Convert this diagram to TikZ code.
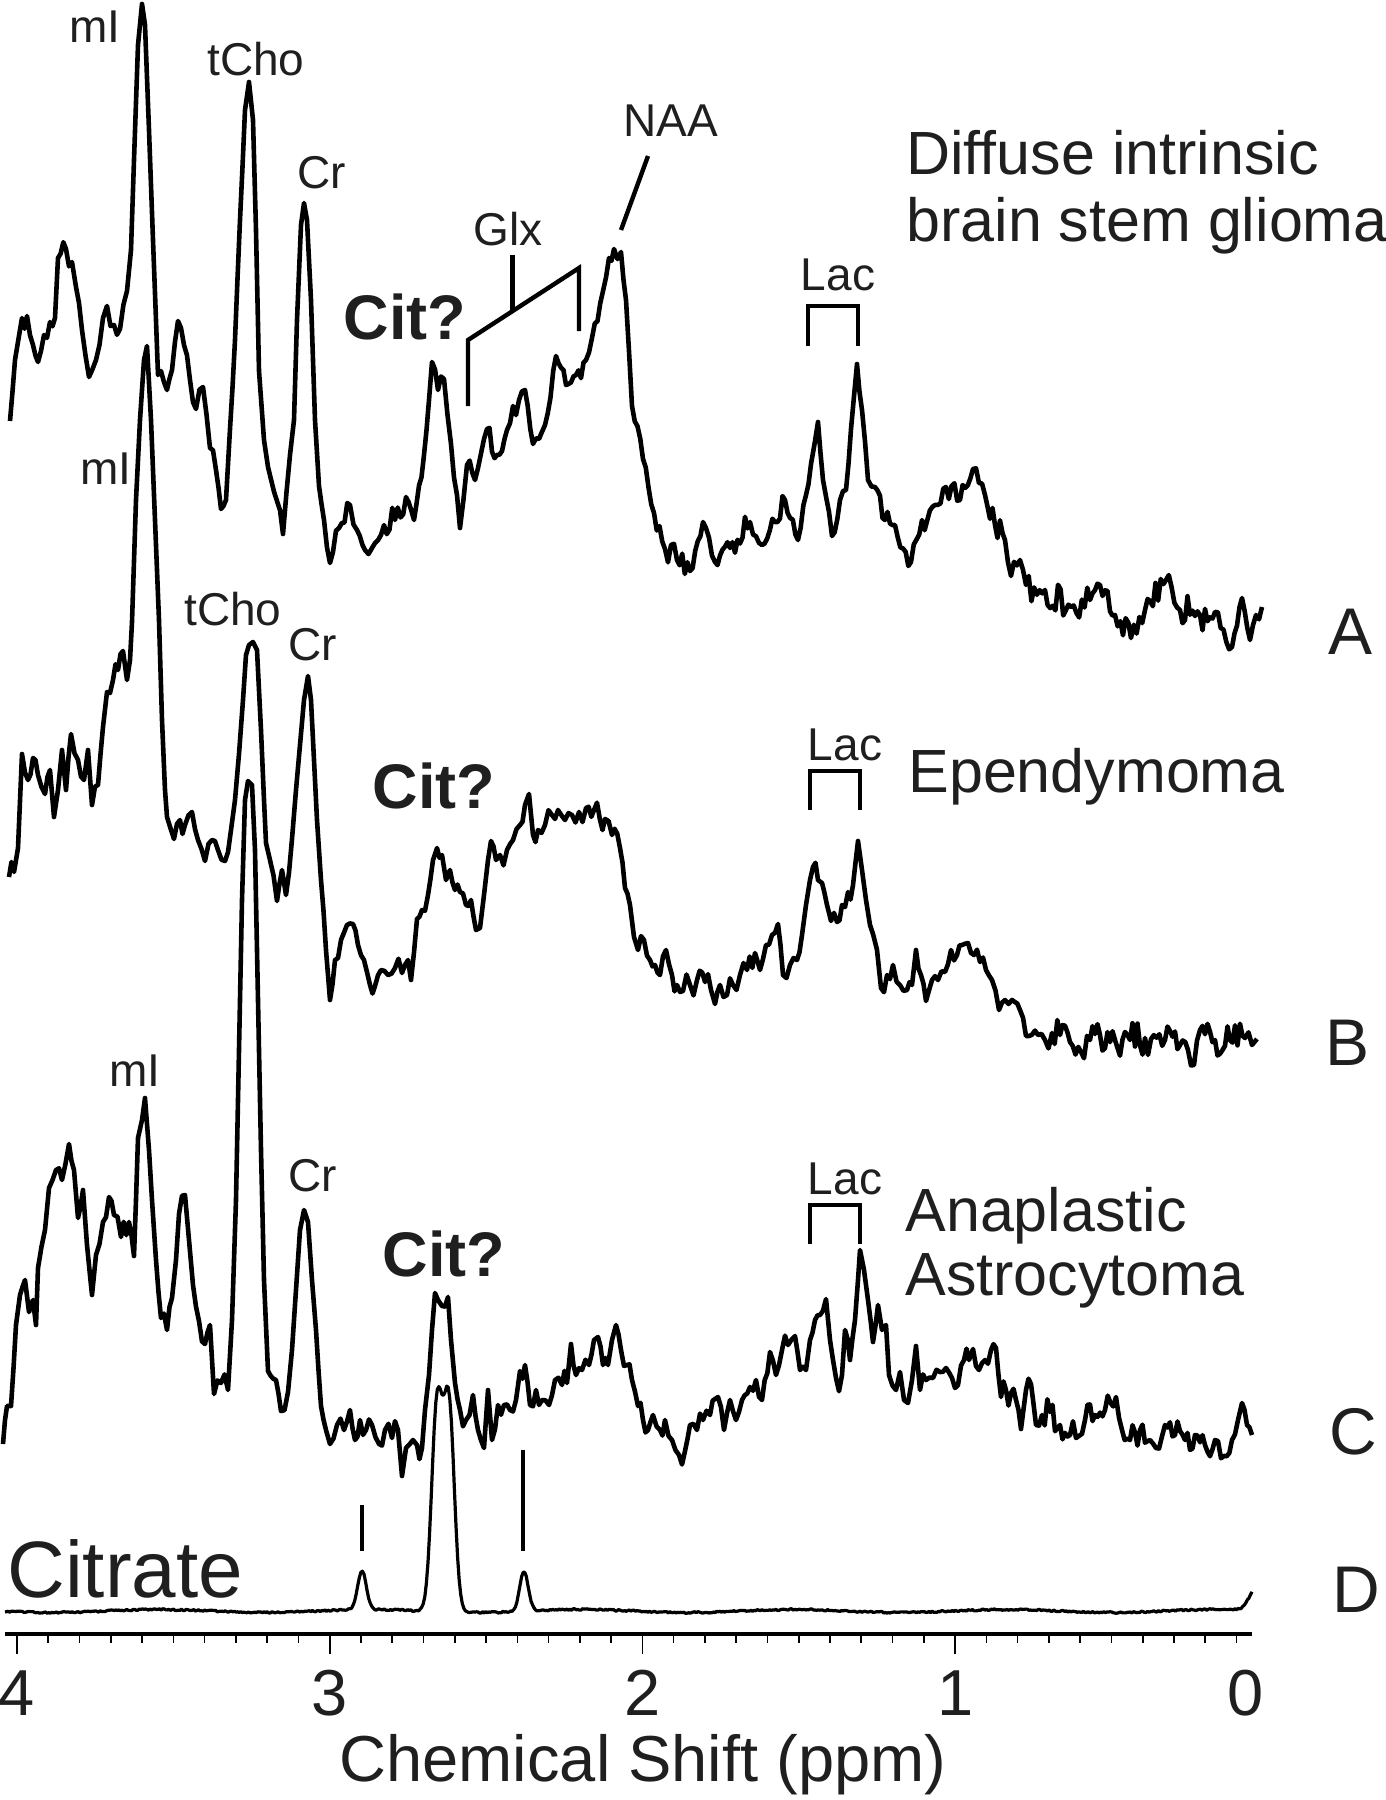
\documentclass[tikz,border=0pt]{standalone}
\usepackage{fontspec}
\setmainfont{Liberation Sans}
\newcommand\jspec[4]{%
 \draw[#1] (#2,#3) \foreach \x/\y [remember=\x as \lx (initially #2), remember=\y as \ly (initially #3), evaluate=\x as \n using {int(max(1,abs(\x-\lx)/2.5))}] in {#4} {\foreach \k in {1,...,\n} { -- ({\lx+(\x-\lx)*\k/\n},{\ly+(\y-\ly)*\k/\n+(\k<\n)*17*rand/(1+abs(\y-\ly)/(4*abs(\x-\lx)+4))}) }};
}
\begin{document}
\begin{tikzpicture}[x=0.5pt,y=-0.5pt,
 spec/.style={line width=2.3pt,line join=round,black},
 specD/.style={line width=1.6pt,line join=round,black},
 brk/.style={line width=2.2pt,black},
 citmark/.style={line width=2pt,black},
 lbl/.style={font=\fontsize{23}{27}\selectfont,inner sep=0pt,anchor=base,text=black!88},
 big/.style={font=\fontsize{30.5}{34}\selectfont,inner sep=0pt,anchor=base west,text=black!88},
 cit/.style={font=\fontsize{31.5}{36}\selectfont\bfseries,inner sep=0pt,anchor=base,text=black!88},
 letter/.style={font=\fontsize{33}{36}\selectfont,inner sep=0pt,anchor=base,text=black!88},
 num/.style={font=\fontsize{32.5}{36}\selectfont,inner sep=0pt,anchor=base,text=black!88},
 axisline/.style={line width=1.8pt,black},
 tick/.style={line width=0.8pt,black}]
\useasboundingbox (0,0) rectangle (1386,1800);
\pgfmathsetseed{7}
% ---------- Spectrum A ----------
\jspec{spec}{10}{421}{15/360, 22/318, 27/316, 33/345, 38/362, 44/335, 50/322, 55/318, 58/258, 66/249, 72/262, 76/287, 82/330, 89/377, 96/360, 103/318, 107/306, 114/325, 120/329, 127/291, 131/250, 134/160, 138/45, 142/4, 145/25, 149/130, 153/240, 158/375, 167/390, 172/370, 178/321, 184/345, 190/380, 196/409, 203/387, 210/448, 216/470, 221/509, 226/500, 230/429, 235/340, 240/220, 245/110, 249/82, 253/120, 256/230, 259/371, 264/440, 268/467, 277/501, 283/534, 290/455, 294/420, 297/320, 301/225, 304/203, 307/220, 311/300, 315/420, 319/486, 324/520, 330/563, 339/528, 350/505, 357/530, 365/550, 372/548, 384/525, 395/520, 406/497, 414/520, 424/455, 429/400, 432/362, 438/390, 444/379, 451/444, 460/528, 467/465, 475/480, 487/429, 497/455, 507/430, 513/406, 519/400, 525/390, 533/444, 545/425, 556/356, 566/385, 576/375, 586/360, 592/338, 603/291, 609/258, 614/249, 621/252, 626/300, 632/406, 643/459, 654/513, 665/549, 677/560, 690/571, 703/522, 715/562, 730/548, 750/522, 762/545, 775/522, 785/500, 798/540, 806/495, 811/464, 818/422, 823/480, 832/536, 840/500, 846/490, 851/429, 857/364, 862/410, 868/480, 875/487, 885/520, 895/525, 911/562, 922/520, 935/505, 946/487, 960/500, 973/469, 985/495, 995/525, 1005/540, 1011/576, 1020/560, 1026/585, 1045/590, 1071/607, 1090/600, 1100/585, 1115/615, 1131/638, 1145/610, 1166/580, 1180/610, 1200/615, 1215/612, 1232/647, 1242/598, 1250/640, 1256/615, 1262/607}
% ---------- Spectrum B ----------
\jspec{spec}{9}{877}{14/872, 18/848, 22/754, 28/780, 33/758, 38/775, 45/794, 50/770, 54/817, 58/790, 62/750, 66/790, 71/734, 78/760, 84/780, 88/750, 92/805, 98/785, 103/727, 107/692, 113/680, 118/670, 123/651, 127/680, 130/660, 132/622, 136/500, 140/420, 144/360, 147/346, 151/420, 155/520, 159/620, 162/720, 165/790, 167/817, 174/839, 180/820, 185/825, 192/812, 198/840, 205/861, 212/840, 218/850, 225/861, 231/830, 235/800, 239/754, 243/700, 246/655, 249/645, 253/642, 257/650, 261/730, 264/800, 266/843, 270/860, 277/901, 282/870, 286/895, 292/839, 296/790, 300/745, 304/700, 308/676, 311/700, 314/760, 317/820, 321/880, 326/950, 330/1000, 335/960, 341/940, 347/925, 353/924, 358/945, 364/960, 370/985, 375/986, 381/970, 388/975, 395/968, 402/973, 408/960, 411/980, 417/919, 422/910, 428/895, 433/860, 437/848, 442/855, 446/880, 450/870, 455/890, 460/892, 466/905, 471/900, 476/930, 480/928, 484/895, 488/860, 491/841, 496/860, 500/855, 507/850, 513/840, 520/825, 525/805, 529/794, 533/835, 538/830, 545/825, 552/815, 558/810, 565/820, 572/815, 579/812, 586/808, 594/810, 600/820, 605/819, 612/835, 620/848, 625/888, 630/905, 634/937, 638/950, 644/940, 650/960, 655/965, 660/975, 666/950, 672/975, 677/985, 683/991, 690/985, 697/980, 705/982, 711/990, 715/1004, 720/985, 727/995, 733/985, 740/975, 747/970, 755/953, 760/970, 766/945, 772/935, 778/924, 783/975, 790/965, 797/960, 802/935, 806/905, 810/880, 813/867, 818/880, 822/883, 827/905, 831/921, 837/922, 842/905, 848/892, 853/885, 858/841, 862/870, 866/900, 870/925, 873/934, 877/950, 881/988, 887/975, 893/965, 900/985, 907/990, 912/985, 916/950, 921/975, 926/1001, 932/980, 938/980, 945/972, 951/950, 957/955, 962/945, 968/943, 974/955, 980/962, 986/970, 992/980, 999/1010, 1005/1000, 1012/1000, 1020/1010, 1029/1036, 1038/1035, 1045/1040, 1052/1033, 1060/1035, 1070/1042, 1081/1052, 1090/1040, 1100/1035, 1115/1040, 1130/1040, 1145/1038, 1151/1039, 1165/1040, 1180/1045, 1188/1050, 1194/1065, 1200/1030, 1215/1040, 1230/1040, 1245/1038, 1252/1045, 1257/1039}
% ---------- Spectrum C ----------
\jspec{spec}{3}{1444}{5/1420, 7/1406, 11/1406, 16/1325, 20/1295, 25/1280, 29/1312, 33/1300, 36/1325, 38/1268, 45/1230, 49/1188, 56/1170, 62/1180, 69/1144, 74/1170, 78/1218, 83/1190, 87/1245, 92/1295, 96/1255, 103/1222, 109/1197, 114/1215, 121/1237, 129/1222, 134/1256, 136/1200, 138/1138, 142/1120, 145/1098, 149/1150, 152/1200, 156/1260, 161/1318, 167/1330, 172/1298, 176/1260, 179/1214, 185/1195, 189/1240, 193/1285, 199/1321, 205/1344, 210/1325, 214/1394, 221/1383, 228/1390, 232/1320, 236/1200, 239/1050, 242/900, 245/800, 248/781, 252/785, 255/850, 258/1000, 261/1150, 264/1280, 268/1371, 276/1380, 281/1411, 288/1392, 292/1350, 296/1290, 300/1230, 304/1210, 308/1222, 312/1280, 316/1330, 321/1406, 326/1430, 330/1444, 337/1425, 344/1430, 350/1410, 355/1440, 360/1420, 366/1430, 372/1425, 379/1444, 385/1430, 392/1438, 398/1430, 402/1476, 406/1448, 413/1440, 417/1445, 422/1448, 425/1410, 429/1375, 432/1330, 435/1293, 438/1300, 442/1306, 448/1297, 451/1340, 455/1383, 460/1410, 466/1420, 473/1395, 478/1430, 484/1448, 488/1390, 492/1440, 498/1405, 504/1405, 510/1410, 516/1400, 520/1371, 525/1365, 530/1405, 536/1390, 542/1400, 549/1405, 555/1380, 562/1385, 567/1383, 571/1344, 576/1375, 582/1370, 589/1365, 594/1340, 598/1337, 603/1365, 608/1365, 612/1340, 616/1325, 621/1350, 627/1365, 632/1380, 638/1406, 643/1420, 648/1430, 653/1415, 660/1430, 665/1420, 672/1440, 679/1455, 685/1451, 690/1425, 697/1430, 703/1420, 710/1415, 718/1397, 724/1430, 730/1400, 736/1420, 742/1400, 750/1387, 756/1380, 762/1400, 770/1352, 776/1375, 782/1350, 788/1345, 795/1336, 800/1370, 806/1370, 810/1340, 815/1320, 820/1315, 826/1299, 830/1340, 833/1360, 836/1378, 842/1375, 845/1330, 850/1360, 855/1320, 858/1280, 860/1250, 864/1270, 868/1300, 873/1342, 878/1305, 882/1330, 886/1325, 889/1375, 896/1390, 900/1372, 904/1400, 908/1403, 912/1380, 916/1346, 920/1390, 926/1380, 933/1378, 940/1372, 946/1368, 952/1378, 958/1385, 964/1360, 969/1360, 973/1349, 979/1370, 985/1360, 991/1350, 996/1348, 1001/1397, 1006/1390, 1011/1393, 1016/1400, 1021/1429, 1026/1390, 1031/1384, 1036/1425, 1042/1415, 1050/1412, 1060/1425, 1070/1435, 1076/1438, 1085/1420, 1095/1415, 1105/1410, 1116/1397, 1122/1430, 1130/1440, 1140/1430, 1150/1440, 1156/1448, 1165/1425, 1175/1435, 1185/1440, 1195/1435, 1205/1445, 1215/1440, 1224/1456, 1232/1440, 1238/1420, 1242/1403, 1247/1425, 1252/1435}
% ---------- Spectrum D (citrate) ----------
\draw[specD] plot[domain=5:1252,samples=800,variable=\t] (\t,{1611-39*exp(-(min(abs(\t-362)/6,4))^2)-205*exp(-(min(abs(\t-437)/7.5,4))^2)-205*exp(-(min(abs(\t-449)/7.5,4))^2)-40*exp(-(min(abs(\t-524)/6,4))^2)-20*exp(-(min(abs(\t-1255)/9,4))^2)+1.5*sin(\t*1.7)+0.8*rand});
% ---------- Labels A ----------
\node[lbl] (mIA) at (95,42) {mI};
\node[lbl] (tChoA) at (256,75) {tCho};
\node[lbl] (CrA) at (322,188) {Cr};
\node[lbl] (GlxA) at (508,245) {Glx};
\node[lbl] (NAAA) at (671,136) {NAA};
\node[lbl] (LacA) at (838,290) {Lac};
\node[cit] (CitA) at (405,339) {Cit?};
\node[big] (titleA1) at (906,174) {Diffuse intrinsic};
\node[big] (titleA2) at (906,241) {brain stem glioma};
\node[letter] (letA) at (1350,654) {A};
\coordinate (naa1) at (648,156);
\coordinate (naa2) at (621,230);
\draw[brk] (naa1) -- (naa2);
\draw[brk,line join=miter] (468,406) -- (468,340) -- (579,268) -- (579,331);
\draw[brk] (512.5,254.5) -- (512.5,310);
\draw[brk,line join=miter] (808,346) -- (808,306) -- (858,306) -- (858,346);
% ---------- Labels B ----------
\node[lbl] (mIB) at (106,484) {mI};
\node[lbl] (tChoB) at (233,625) {tCho};
\node[lbl] (CrB) at (313,660) {Cr};
\node[cit] (CitB) at (434,808) {Cit?};
\node[lbl] (LacB) at (845,760) {Lac};
\draw[brk,line join=miter] (810,810) -- (810,771) -- (860,771) -- (860,810);
\node[big] (titleB) at (908,792) {Ependymoma};
\node[letter] (letB) at (1347,1065) {B};
% ---------- Labels C ----------
\node[lbl] (mIC) at (135,1086) {mI};
\node[lbl] (CrC) at (313,1191) {Cr};
\node[cit] (CitC) at (444,1276) {Cit?};
\node[lbl] (LacC) at (845,1194) {Lac};
\draw[brk,line join=miter] (810,1244) -- (810,1205) -- (860,1205) -- (860,1244);
\node[big] (titleC1) at (905,1231) {Anaplastic};
\node[big] (titleC2) at (905,1295) {Astrocytoma};
\node[letter] (letC) at (1353,1454) {C};
% ---------- Labels D ----------
\node[font=\fontsize{40}{44}\selectfont,inner sep=0pt,anchor=base west,text=black!88] (citrate) at (7,1597) {Citrate};
\draw[citmark] (362,1505) -- (362,1551);
\draw[citmark] (523,1450) -- (523,1551);
\node[letter] (letD) at (1356,1612) {D};
% ---------- Axis ----------
\coordinate (ax0) at (5,1634);
\coordinate (ax1) at (1252,1634);
\draw[axisline] (ax0) -- (ax1);
\foreach \k in {0,...,39} \draw[tick] ({17+\k*31.27},1634) -- ++(0,9);
\foreach \k in {0,10,20,30} \draw[tick] ({17+\k*31.27},1634) -- ++(0,20);
\node[num] (n4) at (17,1715) {4};
\node[num] (n3) at (329.7,1715) {3};
\node[num] (n2) at (642.4,1715) {2};
\node[num] (n1) at (955.1,1715) {1};
\node[num] (n0) at (1246,1715) {0};
\node[num] (xlabel) at (643,1781) {Chemical Shift (ppm)};
\end{tikzpicture}
\end{document}
